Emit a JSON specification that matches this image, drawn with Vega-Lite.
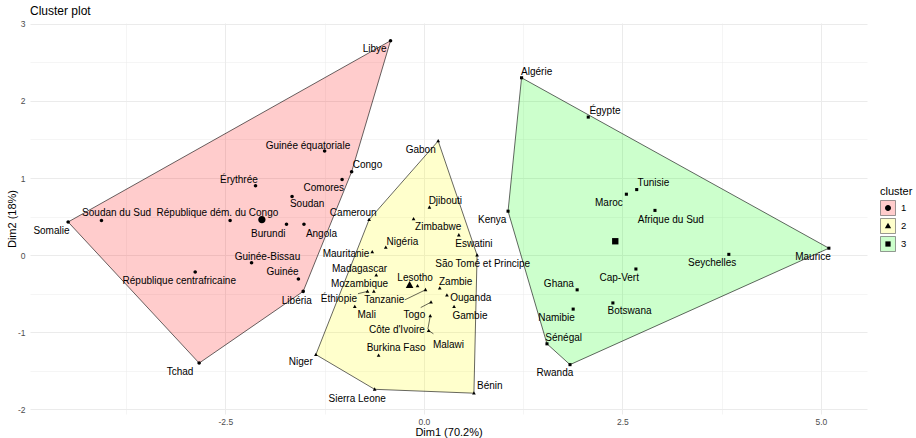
{
  "$schema": "https://vega.github.io/schema/vega-lite/v6.json",
  "width": 837,
  "height": 391,
  "autosize": "none",
  "padding": {"left": 30, "top": 23, "right": 49, "bottom": 24},
  "background": "white",
  "title": {"text": "Cluster plot", "anchor": "start", "frame": "group", "fontSize": 12, "fontWeight": "normal", "font": "Liberation Sans", "color": "black", "offset": 2},
  "config": {
    "view": {"stroke": null},
    "axis": {"labelFont": "Liberation Sans", "titleFont": "Liberation Sans", "labelColor": "#4D4D4D", "labelFontSize": 8.5, "titleFontSize": 11, "titleFontWeight": "normal", "titleColor": "black", "domain": false, "ticks": false, "gridColor": "#EBEBEB"},
    "legend": {"labelFont": "Liberation Sans", "titleFont": "Liberation Sans", "titleFontWeight": "normal", "titleFontSize": 11, "labelFontSize": 9.5, "titleColor": "black", "labelColor": "black", "padding": 0, "rowPadding": 0, "titlePadding": 3, "labelOffset": 5}
  },
  "datasets": {
    "pts": [
      {"name": "Libye", "cluster": "1", "x": -0.42, "y": 2.78, "lx": -0.62, "ly": 2.67, "hull": 1},
      {"name": "Guinée équatoriale", "cluster": "1", "x": -1.25, "y": 1.35, "lx": -1.46, "ly": 1.42},
      {"name": "Congo", "cluster": "1", "x": -0.91, "y": 1.08, "lx": -0.71, "ly": 1.17, "hull": 2},
      {"name": "Comores", "cluster": "1", "x": -1.03, "y": 0.98, "lx": -1.26, "ly": 0.87},
      {"name": "Érythrée", "cluster": "1", "x": -2.12, "y": 0.9, "lx": -2.33, "ly": 0.98},
      {"name": "Soudan", "cluster": "1", "x": -1.66, "y": 0.76, "lx": -1.47, "ly": 0.66},
      {"name": "Soudan du Sud", "cluster": "1", "x": -4.06, "y": 0.45, "lx": -3.87, "ly": 0.54},
      {"name": "République dém. du Congo", "cluster": "1", "x": -2.44, "y": 0.45, "lx": -2.6, "ly": 0.54},
      {"name": "Somalie", "cluster": "1", "x": -4.48, "y": 0.43, "lx": -4.69, "ly": 0.31, "hull": 5},
      {"name": "Burundi", "cluster": "1", "x": -1.73, "y": 0.4, "lx": -1.96, "ly": 0.28},
      {"name": "Angola", "cluster": "1", "x": -1.51, "y": 0.4, "lx": -1.29, "ly": 0.28},
      {"name": "Guinée-Bissau", "cluster": "1", "x": -2.17, "y": -0.1, "lx": -1.97, "ly": -0.02},
      {"name": "République centrafricaine", "cluster": "1", "x": -2.88, "y": -0.22, "lx": -3.08, "ly": -0.33},
      {"name": "Guinée", "cluster": "1", "x": -1.58, "y": -0.31, "lx": -1.78, "ly": -0.22},
      {"name": "Libéria", "cluster": "1", "x": -1.52, "y": -0.47, "lx": -1.6, "ly": -0.59, "hull": 3},
      {"name": "Tchad", "cluster": "1", "x": -2.83, "y": -1.4, "lx": -3.07, "ly": -1.52, "hull": 4},
      {"name": "Gabon", "cluster": "2", "x": 0.18, "y": 1.48, "lx": -0.04, "ly": 1.36, "hull": 1},
      {"name": "Djibouti", "cluster": "2", "x": 0.07, "y": 0.62, "lx": 0.27, "ly": 0.7},
      {"name": "Zimbabwe", "cluster": "2", "x": -0.13, "y": 0.47, "lx": 0.18, "ly": 0.37},
      {"name": "Eswatini", "cluster": "2", "x": 0.44, "y": 0.26, "lx": 0.63, "ly": 0.14},
      {"name": "Nigéria", "cluster": "2", "x": -0.48, "y": 0.1, "lx": -0.27, "ly": 0.17},
      {"name": "Mauritanie", "cluster": "2", "x": -0.65, "y": 0.04, "lx": -0.98, "ly": 0.02},
      {"name": "São Tomé et Principe", "cluster": "2", "x": 0.67, "y": 0.0, "lx": 0.74, "ly": -0.11, "hull": 2},
      {"name": "Madagascar", "cluster": "2", "x": -0.6, "y": -0.26, "lx": -0.81, "ly": -0.18},
      {"name": "Cameroun", "cluster": "2", "x": -0.69, "y": 0.46, "lx": -0.89, "ly": 0.54, "hull": 6},
      {"name": "Lesotho", "cluster": "2", "x": -0.08, "y": -0.4, "lx": -0.11, "ly": -0.3},
      {"name": "Zambie", "cluster": "2", "x": 0.2, "y": -0.43, "lx": 0.4, "ly": -0.35},
      {"name": "Mozambique", "cluster": "2", "x": -0.63, "y": -0.47, "lx": -0.81, "ly": -0.38},
      {"name": "Éthiopie", "cluster": "2", "x": -0.71, "y": -0.47, "lx": -1.07, "ly": -0.57, "ex": -0.83, "ey": -0.5},
      {"name": "Tanzanie", "cluster": "2", "x": 0.02, "y": -0.45, "lx": -0.5, "ly": -0.58, "ex": -0.24, "ey": -0.58},
      {"name": "Ouganda", "cluster": "2", "x": 0.29, "y": -0.52, "lx": 0.59, "ly": -0.55},
      {"name": "Togo", "cluster": "2", "x": 0.09, "y": -0.61, "lx": -0.12, "ly": -0.77, "ex": -0.04, "ey": -0.68},
      {"name": "Mali", "cluster": "2", "x": -0.87, "y": -0.67, "lx": -0.72, "ly": -0.77},
      {"name": "Gambie", "cluster": "2", "x": 0.38, "y": -0.67, "lx": 0.58, "ly": -0.79},
      {"name": "Côte d'Ivoire", "cluster": "2", "x": 0.08, "y": -0.79, "lx": -0.34, "ly": -0.97, "ex": 0.05, "ey": -0.96},
      {"name": "Malawi", "cluster": "2", "x": 0.06, "y": -0.98, "lx": 0.31, "ly": -1.16, "ex": 0.12, "ey": -1.02},
      {"name": "Burkina Faso", "cluster": "2", "x": -0.57, "y": -1.3, "lx": -0.35, "ly": -1.21},
      {"name": "Niger", "cluster": "2", "x": -1.36, "y": -1.29, "lx": -1.55, "ly": -1.39, "hull": 5},
      {"name": "Sierra Leone", "cluster": "2", "x": -0.62, "y": -1.74, "lx": -0.84, "ly": -1.87, "hull": 4},
      {"name": "Bénin", "cluster": "2", "x": 0.63, "y": -1.79, "lx": 0.83, "ly": -1.7, "hull": 3},
      {"name": "Algérie", "cluster": "3", "x": 1.23, "y": 2.3, "lx": 1.42, "ly": 2.38, "hull": 1},
      {"name": "Égypte", "cluster": "3", "x": 2.07, "y": 1.79, "lx": 2.28, "ly": 1.87},
      {"name": "Tunisie", "cluster": "3", "x": 2.68, "y": 0.85, "lx": 2.89, "ly": 0.93},
      {"name": "Maroc", "cluster": "3", "x": 2.55, "y": 0.79, "lx": 2.33, "ly": 0.68},
      {"name": "Afrique du Sud", "cluster": "3", "x": 2.91, "y": 0.58, "lx": 3.11, "ly": 0.46},
      {"name": "Kenya", "cluster": "3", "x": 1.06, "y": 0.57, "lx": 0.86, "ly": 0.45, "hull": 5},
      {"name": "Seychelles", "cluster": "3", "x": 3.84, "y": 0.01, "lx": 3.63, "ly": -0.1},
      {"name": "Maurice", "cluster": "3", "x": 5.1, "y": 0.09, "lx": 4.9, "ly": -0.03, "hull": 2},
      {"name": "Cap-Vert", "cluster": "3", "x": 2.67, "y": -0.18, "lx": 2.46, "ly": -0.3},
      {"name": "Ghana", "cluster": "3", "x": 1.93, "y": -0.45, "lx": 1.7, "ly": -0.37},
      {"name": "Botswana", "cluster": "3", "x": 2.38, "y": -0.62, "lx": 2.59, "ly": -0.73},
      {"name": "Namibie", "cluster": "3", "x": 1.88, "y": -0.7, "lx": 1.67, "ly": -0.81},
      {"name": "Sénégal", "cluster": "3", "x": 1.55, "y": -1.15, "lx": 1.76, "ly": -1.08, "hull": 4},
      {"name": "Rwanda", "cluster": "3", "x": 1.84, "y": -1.42, "lx": 1.65, "ly": -1.53, "hull": 3}
    ],
    "cent": [
      {"cluster": "1", "x": -2.04, "y": 0.46},
      {"cluster": "2", "x": -0.18, "y": -0.39},
      {"cluster": "3", "x": 2.41, "y": 0.18}
    ]
  },
  "encoding": {
    "x": {"field": "x", "type": "quantitative", "scale": {"domain": [-4.96, 5.58], "nice": false, "zero": false},
      "axis": {"title": "Dim1 (70.2%)", "values": [-3.75, -2.5, -1.25, 0, 1.25, 2.5, 3.75, 5],
        "labelExpr": "datum.value == -2.5 ? '-2.5' : datum.value == 0 ? '0.0' : datum.value == 2.5 ? '2.5' : datum.value == 5 ? '5.0' : ''",
        "gridWidth": {"condition": {"test": "datum.value % 2.5 === 0", "value": 1}, "value": 0.5},
        "labelPadding": 3, "titlePadding": 1}},
    "y": {"field": "y", "type": "quantitative", "scale": {"domain": [-2.06, 3.01], "nice": false, "zero": false},
      "axis": {"title": "Dim2 (18%)", "values": [-2, -1.5, -1, -0.5, 0, 0.5, 1, 1.5, 2, 2.5, 3],
        "labelExpr": "datum.value % 1 === 0 ? '' + datum.value : ''",
        "gridWidth": {"condition": {"test": "datum.value % 1 === 0", "value": 1}, "value": 0.5},
        "labelPadding": 5, "titleX": -18, "titleBaseline": "middle"}}
  },
  "layer": [
    {
      "data": {"name": "pts"},
      "transform": [{"filter": "isValid(datum.hull)"}],
      "mark": {"type": "line", "interpolate": "linear-closed", "stroke": "black", "strokeWidth": 0.6},
      "encoding": {
        "fill": {"field": "cluster", "type": "nominal",
          "scale": {"range": ["rgba(255,0,0,0.2)", "rgba(255,255,0,0.2)", "rgba(0,255,0,0.2)"]},
          "legend": {"title": "cluster", "orient": "none", "legendX": 850, "legendY": 163, "symbolType": "M -1 -1 L 1 -1 L 1 1 L -1 1 Z", "symbolSize": 225, "symbolStrokeColor": "#555555", "symbolStrokeWidth": 0.6, "rowPadding": 0}},
        "order": {"field": "hull", "type": "quantitative"}
      }
    },
    {
      "data": {"name": "pts"},
      "transform": [{"filter": "isValid(datum.ex)"}],
      "mark": {"type": "rule", "color": "black", "strokeWidth": 0.6},
      "encoding": {"x2": {"field": "ex"}, "y2": {"field": "ey"}}
    },
    {
      "data": {"name": "pts"},
      "mark": {"type": "point", "filled": true, "color": "black", "opacity": 1, "size": 77},
      "encoding": {
        "shape": {"field": "cluster", "type": "nominal",
          "scale": {"range": [
            "M -1 -1 M 1 1 M -0.4 0 A 0.4 0.4 0 1 1 0.4 0 A 0.4 0.4 0 1 1 -0.4 0 Z",
            "M -1 -1 M 1 1 M 0 -0.45 L 0.42 0.3 L -0.42 0.3 Z",
            "M -1 -1 M 1 1 M -0.35 -0.35 L 0.35 -0.35 L 0.35 0.35 L -0.35 0.35 Z"]},
          "legend": {"title": "cluster", "orient": "none", "legendX": 850, "legendY": 163, "symbolSize": 225, "symbolFillColor": "black", "symbolStrokeColor": "#555555", "symbolStrokeWidth": 0.6, "titleOpacity": 0, "labelOpacity": 0, "rowPadding": 0}}
      }
    },
    {
      "data": {"name": "cent"},
      "mark": {"type": "point", "filled": true, "color": "black", "opacity": 1, "size": 330},
      "encoding": {"shape": {"field": "cluster", "type": "nominal"}}
    },
    {
      "data": {"name": "pts"},
      "mark": {"type": "text", "font": "Liberation Sans", "fontSize": 10, "color": "black", "align": "center", "baseline": "middle"},
      "encoding": {
        "x": {"field": "lx", "type": "quantitative"},
        "y": {"field": "ly", "type": "quantitative"},
        "text": {"field": "name"}
      }
    }
  ]
}
